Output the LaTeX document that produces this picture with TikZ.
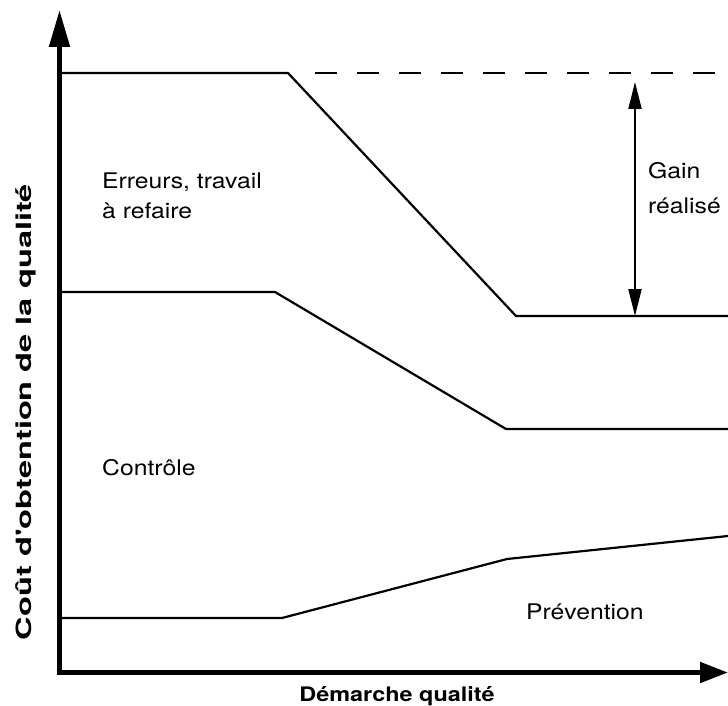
\documentclass[tikz,border=0pt]{standalone}
\usepackage{fontspec}
\usetikzlibrary{arrows.meta}
\newfontfamily\hv{TeX Gyre Heros}
\begin{document}
\begin{tikzpicture}[x=1pt,y=-1pt,
  curve/.style={line width=2.2pt,line join=miter},
  axis/.style={line width=5pt,line join=miter},
  lbl/.style={font=\hv\fontsize{21.5}{26}\selectfont,anchor=base west,inner sep=0pt,xscale=1.15,transform shape},
  axlbl/.style={font=\hv\bfseries\fontsize{20}{24}\selectfont,inner sep=0pt,transform shape}]
\useasboundingbox (0,0) rectangle (728,706);
\fill[white] (0,0) rectangle (728,706);

% axes
\coordinate (origin) at (59.5,672.5);
\coordinate (ytip) at (59.5,10);
\coordinate (xtip) at (728,672.5);
\draw[axis,{Triangle[length=37pt,width=20pt]}-{Triangle[length=28pt,width=20pt]}]
  (ytip) -- (origin) -- (xtip);

% errors / rework curve
\coordinate (e0) at (59.5,73);
\coordinate (e1) at (288,73);
\coordinate (e2) at (516,316);
\coordinate (e3) at (728,316);
\draw[curve] (e0) -- (e1) -- (e2) -- (e3);
\coordinate (d0) at (295,73);
\coordinate (d1) at (728,73);
\draw[line width=2.2pt,dash pattern=on 22pt off 20pt,dash phase=22pt] (d0) -- (d1);

% control curve
\coordinate (c0) at (59.5,292);
\coordinate (c1) at (275,292);
\coordinate (c2) at (506,429);
\coordinate (c3) at (728,429);
\draw[curve] (c0) -- (c1) -- (c2) -- (c3);

% prevention curve
\coordinate (p0) at (59.5,618);
\coordinate (p1) at (282,618);
\coordinate (p2) at (507,559);
\coordinate (p3) at (728,536);
\draw[curve] (p0) -- (p1) -- (p2) -- (p3);

% realised gain
\coordinate (g0) at (635,82);
\coordinate (g1) at (635,316);
\draw[line width=2pt,{Triangle[length=27pt,width=13pt]}-{Triangle[length=27pt,width=13pt]}] (g0) -- (g1);

% labels
\node[lbl] (err1) at (102,188) {Erreurs, travail};
\node[lbl] (err2) at (102,218) {à refaire};
\node[lbl] (ctrl) at (102,475) {Contrôle};
\node[lbl] (prev) at (526,619) {Prévention};
\node[lbl] (gain1) at (648,178) {Gain};
\node[lbl] (gain2) at (648,213) {réalisé};

\node[axlbl,anchor=base,xscale=1.17] (xl) at (397,701) {Démarche qualité};
\node[axlbl,anchor=base,rotate=90,xscale=1.55,font=\hv\bfseries\fontsize{21}{24}\selectfont] (yl) at (31,412) {Coût d'obtention de la qualité};
\end{tikzpicture}
\end{document}
